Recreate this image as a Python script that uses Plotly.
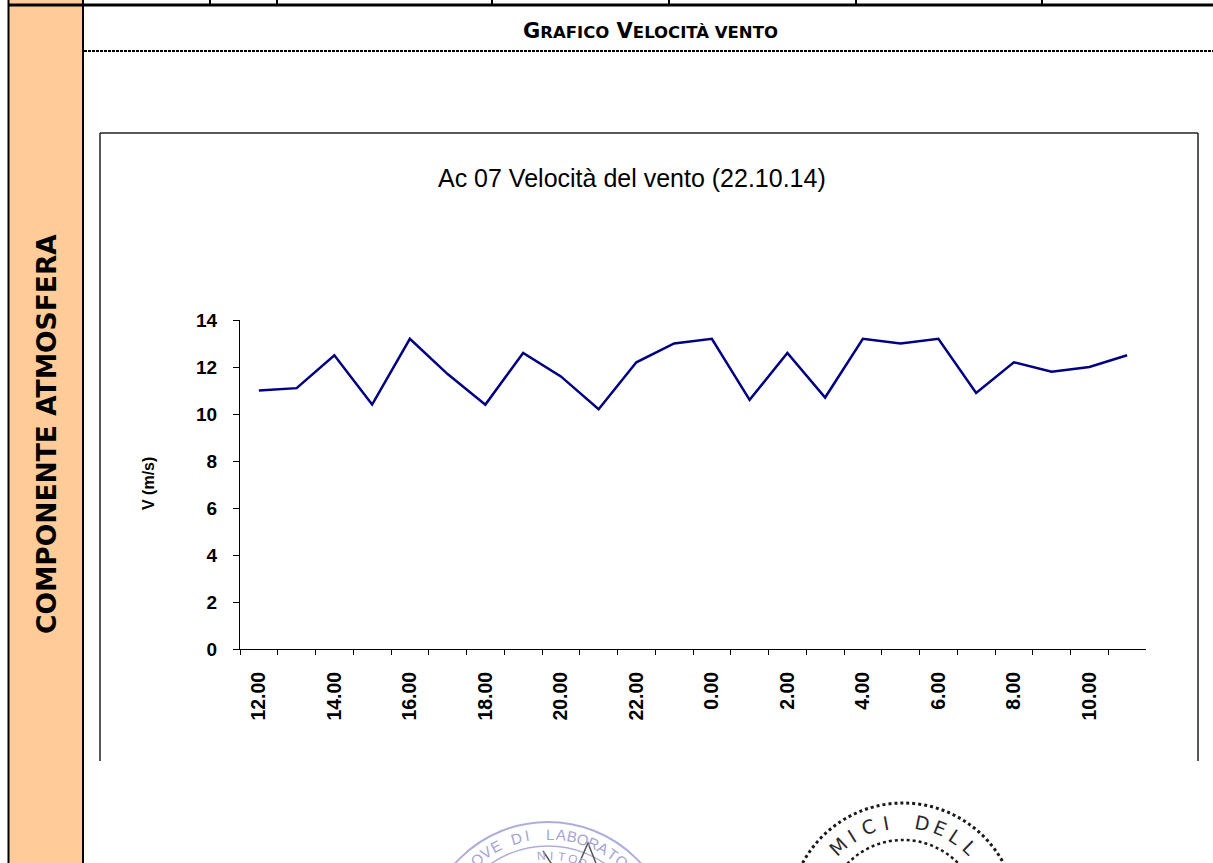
import math
import plotly.graph_objects as go

# Hourly wind speed, 22.10.14 12.00 -> 23.10.14 11.00
hours = ["12.00", "13.00", "14.00", "15.00", "16.00", "17.00", "18.00", "19.00",
         "20.00", "21.00", "22.00", "23.00", "0.00", "1.00", "2.00", "3.00",
         "4.00", "5.00", "6.00", "7.00", "8.00", "9.00", "10.00", "11.00"]
speed = [11.0, 11.1, 12.5, 10.4, 13.2, 11.7, 10.4, 12.6, 11.6, 10.2, 12.2, 13.0,
         13.2, 10.6, 12.6, 10.7, 13.2, 13.0, 13.2, 10.9, 12.2, 11.8, 12.0, 12.5]
hour_labels = [h if i % 2 == 0 else "" for i, h in enumerate(hours)]
y_ticks = [0, 2, 4, 6, 8, 10, 12, 14]

W, H = 1213, 863


def px(x):
    return x / W


def py(y):
    return 1 - y / H


fig = go.Figure(
    go.Scatter(x=hours, y=speed, mode="lines",
               line=dict(color="#000080", width=2.5),
               showlegend=False, hoverinfo="x+y")
)

X_FONT = dict(family="Liberation Sans", size=19.5, color="black", weight="bold")
Y_FONT = dict(family="Liberation Sans", size=19, color="black", weight="bold")

fig.update_layout(
    width=W, height=H,
    margin=dict(l=0, r=0, t=0, b=0, autoexpand=False),
    paper_bgcolor="white", plot_bgcolor="white",
    xaxis=dict(
        domain=[px(240), px(1146)], type="category", range=[-0.5, 23.5],
        tickmode="array", tickvals=hours, ticktext=hour_labels,
        tickson="boundaries", ticks="outside", ticklen=5, tickwidth=1,
        tickcolor="black", showline=True, linecolor="black", linewidth=1,
        tickangle=-90, tickfont=X_FONT, showgrid=False, zeroline=False,
        ticklabelstandoff=14, fixedrange=True,
    ),
    yaxis=dict(
        domain=[py(649), py(320)], range=[0, 14],
        tickmode="array", tickvals=y_ticks, ticktext=[str(v) for v in y_ticks],
        ticks="outside", ticklen=6, tickwidth=1, tickcolor="black",
        showline=True, linecolor="black", linewidth=1,
        tickfont=Y_FONT, showgrid=False, zeroline=False,
        ticklabelstandoff=12, fixedrange=True,
    ),
)

shapes = []
# left orange column of the page table
shapes.append(dict(type="rect", xref="paper", yref="paper",
                   x0=px(9), x1=px(83), y0=py(863), y1=py(0),
                   fillcolor="#FFCC99", line=dict(width=0), layer="below"))
shapes.append(dict(type="line", xref="paper", yref="paper",
                   x0=px(8.5), x1=px(8.5), y0=py(0), y1=py(863),
                   line=dict(color="black", width=2)))
shapes.append(dict(type="line", xref="paper", yref="paper",
                   x0=px(83), x1=px(83), y0=py(0), y1=py(863),
                   line=dict(color="black", width=2)))
# top table row
shapes.append(dict(type="line", xref="paper", yref="paper",
                   x0=px(8), x1=px(1213), y0=py(5), y1=py(5),
                   line=dict(color="black", width=3)))
for xv in [210, 277, 492, 669, 856, 1042]:
    shapes.append(dict(type="line", xref="paper", yref="paper",
                       x0=px(xv), x1=px(xv), y0=py(0), y1=py(5),
                       line=dict(color="black", width=2)))
# dotted rule under the section heading
shapes.append(dict(type="line", xref="paper", yref="paper",
                   x0=px(84), x1=px(1213), y0=py(51), y1=py(51),
                   line=dict(color="black", width=2, dash="3px,1px")))
# chart frame
for (x0, y0, x1, y1) in [(100, 133, 100, 761), (100, 133, 1198, 133),
                         (1198, 133, 1198, 761)]:
    shapes.append(dict(type="line", xref="paper", yref="paper",
                       x0=px(x0), x1=px(x1), y0=py(y0), y1=py(y1),
                       line=dict(color="#222222", width=1.5)))

# stamps at the foot of the page
STAMP_L = (548, 947)
STAMP_R = (903, 917)
for r, w in [(125, 2), (101, 1.5)]:
    cx, cy = STAMP_L
    shapes.append(dict(type="circle", xref="paper", yref="paper",
                       x0=px(cx - r), x1=px(cx + r), y0=py(cy + r), y1=py(cy - r),
                       line=dict(color="#aeaedd", width=w)))
for r, w in [(114, 3), (77, 2.5)]:
    cx, cy = STAMP_R
    shapes.append(dict(type="circle", xref="paper", yref="paper",
                       x0=px(cx - r), x1=px(cx + r), y0=py(cy + r), y1=py(cy - r),
                       line=dict(color="#1a1a1a", width=w, dash="dot")))
# signature stroke
shapes.append(dict(type="path", xref="paper", yref="paper",
                   path=f"M {px(578)},{py(866)} L {px(588)},{py(843)} L {px(597)},{py(866)}"
                        f" M {px(543)},{py(851)} L {px(553)},{py(866)}",
                   line=dict(color="#555555", width=1.5)))
fig.update_layout(shapes=shapes)

annotations = [
    dict(text="Ac 07 Velocità del vento (22.10.14)", x=px(632), y=py(178),
         xref="paper", yref="paper", xanchor="center", yanchor="middle",
         showarrow=False, font=dict(family="Liberation Sans", size=25, color="black")),
    dict(text="V (m/s)", x=px(148), y=py(484), xref="paper", yref="paper",
         xanchor="center", yanchor="middle", textangle=-90, showarrow=False,
         font=dict(family="Liberation Sans", size=16, color="black", weight="bold")),
    dict(text="G<span style='font-size:16.5px'>RAFICO</span> V"
              "<span style='font-size:16.5px'>ELOCITÀ VENTO</span>",
         x=px(650), y=py(31), xref="paper", yref="paper",
         xanchor="center", yanchor="middle", showarrow=False,
         font=dict(family="DejaVu Sans", size=21, color="black", weight="bold")),
    dict(text="COMPONENTE ATMOSFERA", x=px(46), y=py(434), xref="paper", yref="paper",
         xanchor="center", yanchor="middle", textangle=-90, showarrow=False,
         font=dict(family="DejaVu Sans", size=26.5, color="black", weight="bold")),
]


def arc_text(text, center, radius, start_deg, step_deg, size, color, family):
    cx, cy = center
    out = []
    for i, ch in enumerate(text):
        if ch == " ":
            continue
        a = start_deg + i * step_deg
        t = math.radians(a)
        x = cx + radius * math.sin(t)
        y = cy - radius * math.cos(t)
        out.append(dict(text=ch, x=px(x), y=py(y), xref="paper", yref="paper",
                        xanchor="center", yanchor="middle", textangle=a,
                        showarrow=False,
                        font=dict(family=family, size=size, color=color)))
    return out


annotations += arc_text("OVE DI LABORATO", STAMP_L, 113, -39, 5.7, 15,
                        "#a3a3d6", "Liberation Sans")
annotations += arc_text("NITORA", STAMP_L, 91, -4, 6.5, 12,
                        "#a3a3d6", "Liberation Sans")
annotations += arc_text("MICI DELL", STAMP_R, 96, -43, 10.9, 19,
                        "#2a2a2a", "DejaVu Sans")

fig.update_layout(annotations=annotations)

fig.write_html("out.html")
